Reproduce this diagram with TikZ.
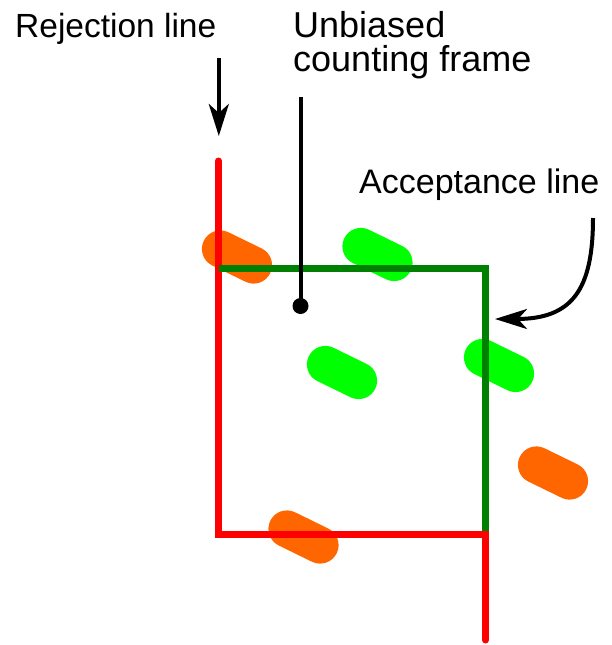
\documentclass[tikz,border=0pt]{standalone}
\usepackage{fontspec}
\setmainfont{Liberation Sans}
\usetikzlibrary{arrows.meta,calc}
\definecolor{linered}{HTML}{FF0000}
\definecolor{linegreen}{HTML}{008000}
\definecolor{blobgreen}{HTML}{00FF00}
\definecolor{bloborange}{HTML}{FF6600}
\tikzset{
  label text/.style={inner sep=0pt, align=left},
  pointer/.style={line width=4pt, black},
  tip/.style={-{Stealth[length=32pt,width=20pt,inset=9pt]}},
  blob/.style={line width=37pt, line cap=round},
  frame line/.style={line width=7pt},
}
\newcommand{\particle}[3]{%
  \draw[blob, #1] ($(#2,#3)+(-16.6,-8.1)$) -- ($(#2,#3)+(16.6,8.1)$);}
\begin{document}
\begin{tikzpicture}[x=1pt,y=-1pt]
\useasboundingbox (0,0) rectangle (612,645);
% particles
\particle{bloborange}{237}{257}
\particle{blobgreen}{377.5}{254.5}
\particle{blobgreen}{342}{372.5}
\particle{blobgreen}{499}{365.5}
\particle{bloborange}{553}{473}
\particle{bloborange}{303.5}{537}
% rejection line (red) and acceptance line (green)
\draw[frame line, linered, line cap=round] (218.5,161) -- (218.5,534.5) -- (485.5,534.5) -- (485.5,640);
\draw[frame line, linegreen] (218.5,268) -- (485.5,268) -- (485.5,531);
% labels
\node[label text, font=\fontsize{33.5}{33.5}\selectfont, anchor=base west] (rej) at (15,37) {Rejection line};
\node[label text, font=\fontsize{36}{34.5}\selectfont, anchor=north west] (ucf) at (293,11) {Unbiased\\counting frame};
\node[label text, font=\fontsize{34}{34}\selectfont, anchor=base west] (acc) at (359,193) {Acceptance line};
% pointers
\coordinate (rejstart) at (218.8,58);
\coordinate (rejend) at (218.8,136);
\draw[pointer, tip] (rejstart) -- (rejend);
\coordinate (ucfstart) at (300.5,97);
\node[circle, fill=black, inner sep=0pt, minimum size=16pt] (dot) at (300.5,306) {};
\draw[pointer] (ucfstart) -- (dot.center);
\coordinate (accstart) at (593,218);
\coordinate (accend) at (495,319);
\draw[pointer, tip] (accstart) .. controls (593,290) and (572,319) .. (accend);
\end{tikzpicture}
\end{document}
